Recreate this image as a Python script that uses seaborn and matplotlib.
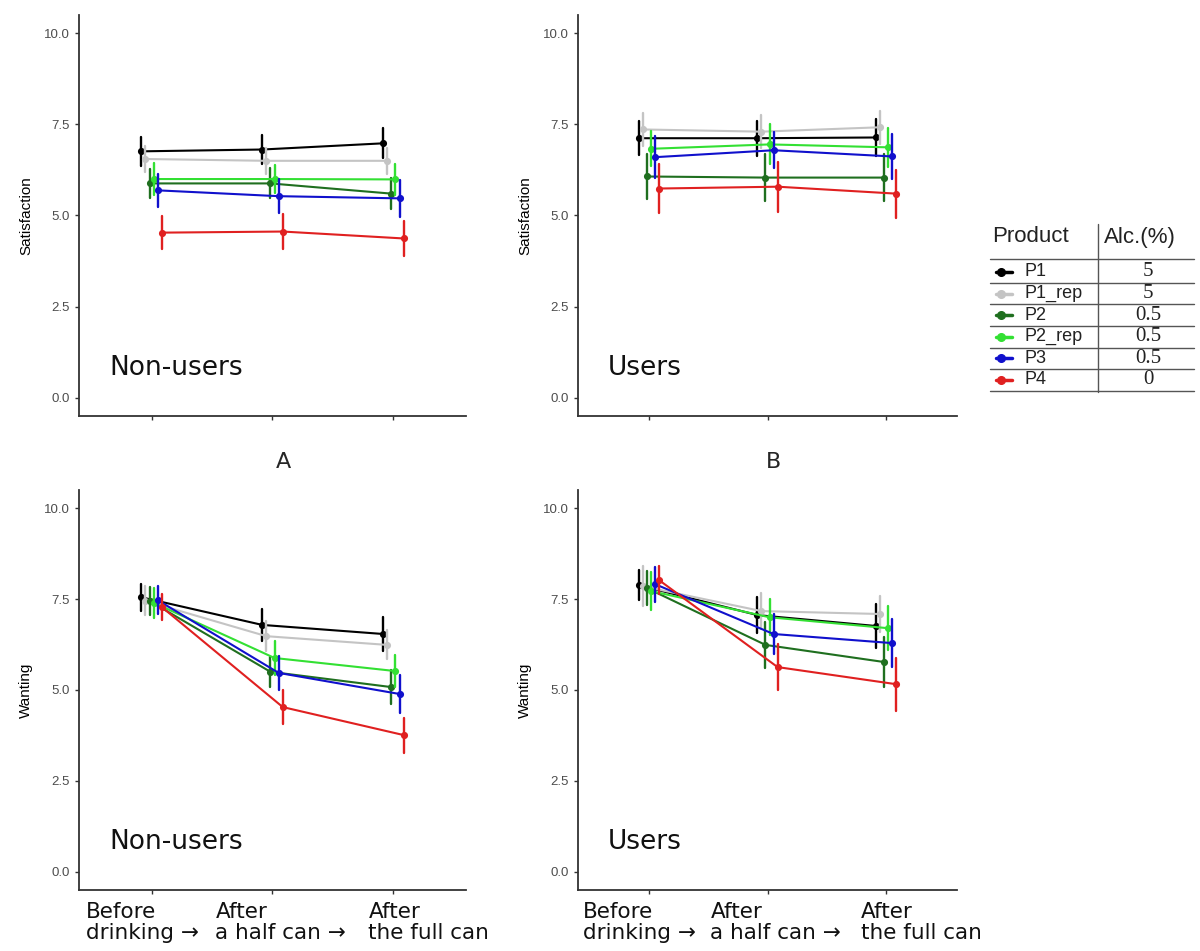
import numpy as np
import pandas as pd
import matplotlib
matplotlib.use("Agg")
import matplotlib.pyplot as plt
import seaborn as sns
from matplotlib.lines import Line2D
from matplotlib.transforms import ScaledTranslation

# ---------------- data ----------------
products = ["P1", "P1_rep", "P2", "P2_rep", "P3", "P4"]
alcohol = ["5", "5", "0.5", "0.5", "0.5", "0"]
times = ["Before drinking", "After a half can", "After the full can"]
time_labels = ["Before\ndrinking \u2192", "After\na half can \u2192", "After\nthe full can"]
colors = ["#000000", "#c4c4c4", "#1f6f1f", "#33e033", "#1010cc", "#e02020"]

# Satisfaction, non-users (rows: products, cols: times)
sat_non_mean = [[6.76, 6.81, 6.98],
                [6.55, 6.50, 6.50],
                [5.88, 5.88, 5.60],
                [6.00, 6.00, 5.99],
                [5.69, 5.53, 5.47],
                [4.53, 4.56, 4.37]]
sat_non_err = [[0.39, 0.40, 0.41],
               [0.35, 0.35, 0.35],
               [0.40, 0.41, 0.43],
               [0.43, 0.39, 0.43],
               [0.46, 0.46, 0.50],
               [0.45, 0.47, 0.48]]

# Satisfaction, users
sat_usr_mean = [[7.12, 7.12, 7.14],
                [7.36, 7.30, 7.42],
                [6.07, 6.04, 6.04],
                [6.83, 6.95, 6.87],
                [6.60, 6.79, 6.62],
                [5.74, 5.79, 5.60]]
sat_usr_err = [[0.46, 0.48, 0.50],
               [0.45, 0.45, 0.46],
               [0.61, 0.64, 0.64],
               [0.48, 0.55, 0.53],
               [0.57, 0.50, 0.62],
               [0.66, 0.69, 0.66]]

# Wanting, non-users
want_non_mean = [[7.55, 6.79, 6.54],
                 [7.45, 6.48, 6.24],
                 [7.45, 5.50, 5.08],
                 [7.40, 5.88, 5.52],
                 [7.47, 5.47, 4.89],
                 [7.28, 4.53, 3.76]]
want_non_err = [[0.37, 0.43, 0.46],
                [0.40, 0.42, 0.40],
                [0.39, 0.41, 0.46],
                [0.41, 0.46, 0.43],
                [0.39, 0.46, 0.53],
                [0.35, 0.46, 0.48]]

# Wanting, users
want_usr_mean = [[7.88, 7.06, 6.76],
                 [7.85, 7.17, 7.09],
                 [7.80, 6.24, 5.77],
                 [7.72, 7.00, 6.70],
                 [7.91, 6.54, 6.29],
                 [8.02, 5.63, 5.16]]
want_usr_err = [[0.41, 0.50, 0.60],
                [0.55, 0.50, 0.50],
                [0.46, 0.64, 0.69],
                [0.53, 0.50, 0.60],
                [0.48, 0.55, 0.66],
                [0.39, 0.64, 0.73]]

W, H = 1200, 951


def long_table(means, errs):
    rows = []
    for pi, p in enumerate(products):
        for ti, t in enumerate(times):
            m, e = means[pi][ti], errs[pi][ti]
            rows.append((p, t, m - e))
            rows.append((p, t, m + e))
    return pd.DataFrame(rows, columns=["Product", "Time", "value"])


sns.set_style("ticks")
plt.rcParams["font.family"] = ["DejaVu Sans"]

fig = plt.figure(figsize=(W / 100, H / 100), dpi=100)


def px_axes(x0, y0, x1, y1):
    return fig.add_axes([x0 / W, 1 - y1 / H, (x1 - x0) / W, (y1 - y0) / H])


panels = [
    (px_axes(79, 15, 466, 416), sat_non_mean, sat_non_err, "Satisfaction", "Non-users", False),
    (px_axes(578, 15, 957, 416), sat_usr_mean, sat_usr_err, "Satisfaction", "Users", False),
    (px_axes(79, 490, 466, 890), want_non_mean, want_non_err, "Wanting", "Non-users", True),
    (px_axes(578, 490, 957, 890), want_usr_mean, want_usr_err, "Wanting", "Users", True),
]

label_offsets = [-66, -57, -25]

for ax, means, errs, ylab, group, bottom in panels:
    df = long_table(means, errs)
    sns.pointplot(data=df, x="Time", y="value", hue="Product",
                  order=times, hue_order=products, palette=colors,
                  estimator="mean", errorbar=("pi", 100), dodge=0.17,
                  markers="o", markersize=4, linewidth=1.5,
                  err_kws={"linewidth": 1.7}, capsize=0,
                  legend=False, ax=ax)
    ax.set_xlim(-0.6, 2.6)
    ax.set_ylim(-0.5, 10.5)
    ax.set_yticks([0, 2.5, 5, 7.5, 10])
    ax.set_yticklabels(["0.0", "2.5", "5.0", "7.5", "10.0"],
                       fontfamily="Liberation Sans", fontsize=9.5, color="#4d4d4d")
    ax.set_ylabel(ylab, fontfamily="Liberation Sans", fontsize=11, color="black", labelpad=8)
    ax.set_xlabel("")
    for s in ["top", "right"]:
        ax.spines[s].set_visible(False)
    for s in ["left", "bottom"]:
        ax.spines[s].set_color("#333333")
        ax.spines[s].set_linewidth(1.3)
    ax.tick_params(axis="both", length=3, width=1, color="#333333")
    ax.tick_params(axis="x", labelbottom=False)
    ax.text(-0.35, 0.82, group, fontsize=19, ha="left", va="center", color="#111111")
    if bottom:
        for i, lab in enumerate(time_labels):
            tr = ax.get_xaxis_transform() + ScaledTranslation(label_offsets[i] / 100, -12 / 100, fig.dpi_scale_trans)
            ax.text(i, 0, lab, transform=tr, ha="left", va="top", fontsize=15.5,
                    multialignment="left", linespacing=1.05, color="#111111")

fig.text(283 / W, 1 - 462 / H, "A", fontsize=16, ha="center", va="center")
fig.text(773 / W, 1 - 462 / H, "B", fontsize=16, ha="center", va="center")

# ---------------- legend table ----------------
def fx(x):
    return x / W


def fy(y):
    return 1 - y / H


line_col = "#555555"
fig.add_artist(Line2D([fx(1098), fx(1098)], [fy(224), fy(392)], transform=fig.transFigure,
                      color=line_col, linewidth=1))
fig.add_artist(Line2D([fx(990), fx(1194)], [fy(259), fy(259)], transform=fig.transFigure,
                      color=line_col, linewidth=1))
fig.text(fx(992), fy(237), "Product", fontfamily="Liberation Sans", fontsize=16,
         ha="left", va="center", color="#222222")
fig.text(fx(1104), fy(237), "Alc.(%)", fontfamily="Liberation Sans", fontsize=16,
         ha="left", va="center", color="#222222")
row0, step = 272, 21.6
for i, (p, a, c) in enumerate(zip(products, alcohol, colors)):
    yc = row0 + i * step
    fig.add_artist(Line2D([fx(996), fx(1012)], [fy(yc), fy(yc)], transform=fig.transFigure,
                          color=c, linewidth=2.5))
    fig.add_artist(Line2D([fx(1001)], [fy(yc)], transform=fig.transFigure, color=c,
                          marker="o", markersize=5.5, linestyle="none"))
    fig.text(fx(1025), fy(yc), p, fontfamily="Liberation Sans", fontsize=13,
             ha="left", va="center", color="#222222")
    fig.text(fx(1148), fy(yc), a, fontfamily="Liberation Serif", fontsize=15,
             ha="center", va="center", color="#222222")
    yl = yc + step / 2
    fig.add_artist(Line2D([fx(990), fx(1194)], [fy(yl), fy(yl)], transform=fig.transFigure,
                          color=line_col, linewidth=1))

fig.savefig("out.png", dpi=100)
